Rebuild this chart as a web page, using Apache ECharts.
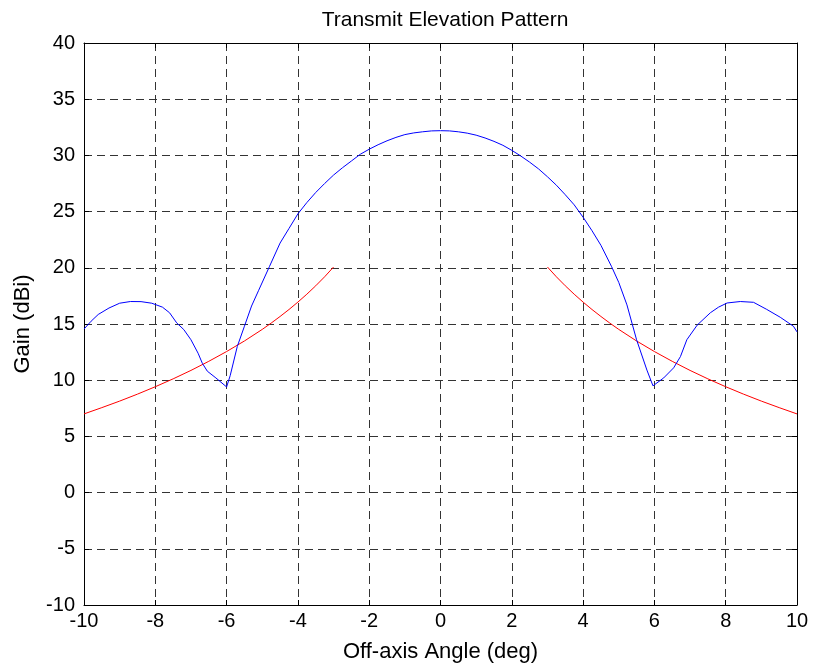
<!DOCTYPE html>
<html>
<head>
<meta charset="utf-8">
<script src="https://cdn.jsdelivr.net/npm/echarts@6/dist/echarts.min.js"></script>
<style>html,body{margin:0;padding:0;background:#fff}#c{width:813px;height:668px}</style>
</head>
<body>
<div id="c"></div>
<script>
var chartTitle = 'Transmit Elevation Pattern';
var xName = 'Off-axis Angle (deg)';
var yName = 'Gain (dBi)';

var blueX = [-10,-9.8,-9.6,-9.3,-9.0,-8.7,-8.4,-8.1,-7.8,-7.6,-7.4,-7.2,-7.0,-6.8,-6.68,-6.54,-6.3,-6.0,-5.9,-5.7,-5.5,-5.3,-5.1,-4.8,-4.5,-4.25,-4.0,-3.75,-3.5,-3.25,-3.0,-2.75,-2.5,-2.25,-2.0,-1.75,-1.5,-1.25,-1.0,-0.75,-0.5,-0.25,0,
  0.25,0.5,0.75,1.0,1.25,1.5,1.75,2.0,2.25,2.5,2.75,3.0,3.25,3.5,3.75,4.0,4.25,4.5,4.8,5.0,5.23,5.5,5.79,5.96,6.26,6.54,6.73,6.91,7.2,7.57,7.8,8.04,8.41,8.78,9.15,9.53,9.9,10];
var blueY = [14.55,15.25,15.85,16.42,16.85,17.0,16.99,16.85,16.5,16.0,15.1,14.5,13.6,12.4,11.5,10.8,10.2,9.4,10.4,13.0,14.8,16.6,18.0,20.1,22.2,23.5,24.8,25.8,26.7,27.5,28.25,28.9,29.5,30.1,30.55,30.95,31.3,31.6,31.85,32.0,32.1,32.18,32.2,
  32.18,32.1,31.98,31.8,31.55,31.25,30.9,30.45,29.95,29.4,28.8,28.1,27.35,26.5,25.6,24.5,23.3,22.0,20.1,18.7,16.7,13.6,10.9,9.5,10.2,11.1,12.1,13.6,14.9,16.0,16.5,16.87,17.0,16.93,16.3,15.6,14.8,14.3];

var redX = [-10,-9.5,-9,-8.5,-8,-7.5,-7,-6.5,-6,-5.5,-5,-4.75,-4.5,-4.25,-4,-3.75,-3.5,-3.25,-3,
  null,
  3,3.25,3.5,3.75,4,4.25,4.5,4.75,5,5.5,6,6.5,7,7.5,8,8.5,9,9.5,10];
var redY = [7.0,7.56,8.14,8.76,9.42,10.12,10.87,11.68,12.55,13.49,14.52,15.08,15.67,16.29,16.95,17.65,18.40,19.20,20.07,
  null,
  20.07,19.20,18.40,17.65,16.95,16.29,15.67,15.08,14.52,13.49,12.55,11.68,10.87,10.12,9.42,8.76,8.14,7.56,7.0];

function pairs(xs, ys) {
  var out = [];
  for (var i = 0; i < xs.length; i++) {
    out.push(xs[i] === null ? [null, null] : [xs[i], ys[i]]);
  }
  return out;
}

var FONT = 'Liberation Sans';
var chart = echarts.init(document.getElementById('c'), null, {renderer: 'canvas'});

var axLine = {show: true, onZero: false, lineStyle: {color: '#000', width: 1}};
var axTick = {show: true, inside: true, length: 5, lineStyle: {color: '#000', width: 1}};
var split = {show: true, lineStyle: {color: '#333', width: 1, type: [8, 5]}};

chart.setOption({
  animation: false,
  backgroundColor: '#fff',
  title: {
    text: chartTitle,
    left: 440, top: 5, textAlign: 'center',
    textStyle: {fontFamily: FONT, fontSize: 21, fontWeight: 'normal', color: '#000'}
  },
  grid: {left: 84, right: 16, top: 43, bottom: 63, containLabel: false},
  xAxis: [
    {type: 'value', min: -10, max: 10, interval: 2, position: 'bottom',
     axisLine: axLine, axisTick: axTick, splitLine: split,
     axisLabel: {color: '#000', fontFamily: FONT, fontSize: 20, margin: 6},
     name: xName, nameLocation: 'middle', nameGap: 36,
     nameTextStyle: {color: '#000', fontFamily: FONT, fontSize: 22}},
    {type: 'value', min: -10, max: 10, interval: 2, position: 'top',
     axisLine: axLine, axisTick: axTick, splitLine: {show: false},
     axisLabel: {show: false}}
  ],
  yAxis: [
    {type: 'value', min: -10, max: 40, interval: 5, position: 'left',
     axisLine: axLine, axisTick: axTick, splitLine: split,
     axisLabel: {color: '#000', fontFamily: FONT, fontSize: 20, margin: 9},
     name: yName, nameLocation: 'middle', nameGap: 50,
     nameTextStyle: {color: '#000', fontFamily: FONT, fontSize: 22}},
    {type: 'value', min: -10, max: 40, interval: 5, position: 'right',
     axisLine: axLine, axisTick: axTick, splitLine: {show: false},
     axisLabel: {show: false}}
  ],
  series: [
    {type: 'line', name: 'red', data: pairs(redX, redY), showSymbol: false, connectNulls: false,
     lineStyle: {color: '#ff0000', width: 1}, itemStyle: {color: '#ff0000'}, z: 3},
    {type: 'line', name: 'blue', data: pairs(blueX, blueY), showSymbol: false,
     lineStyle: {color: '#0000ff', width: 1}, itemStyle: {color: '#0000ff'}, z: 4}
  ]
});
</script>
</body>
</html>
